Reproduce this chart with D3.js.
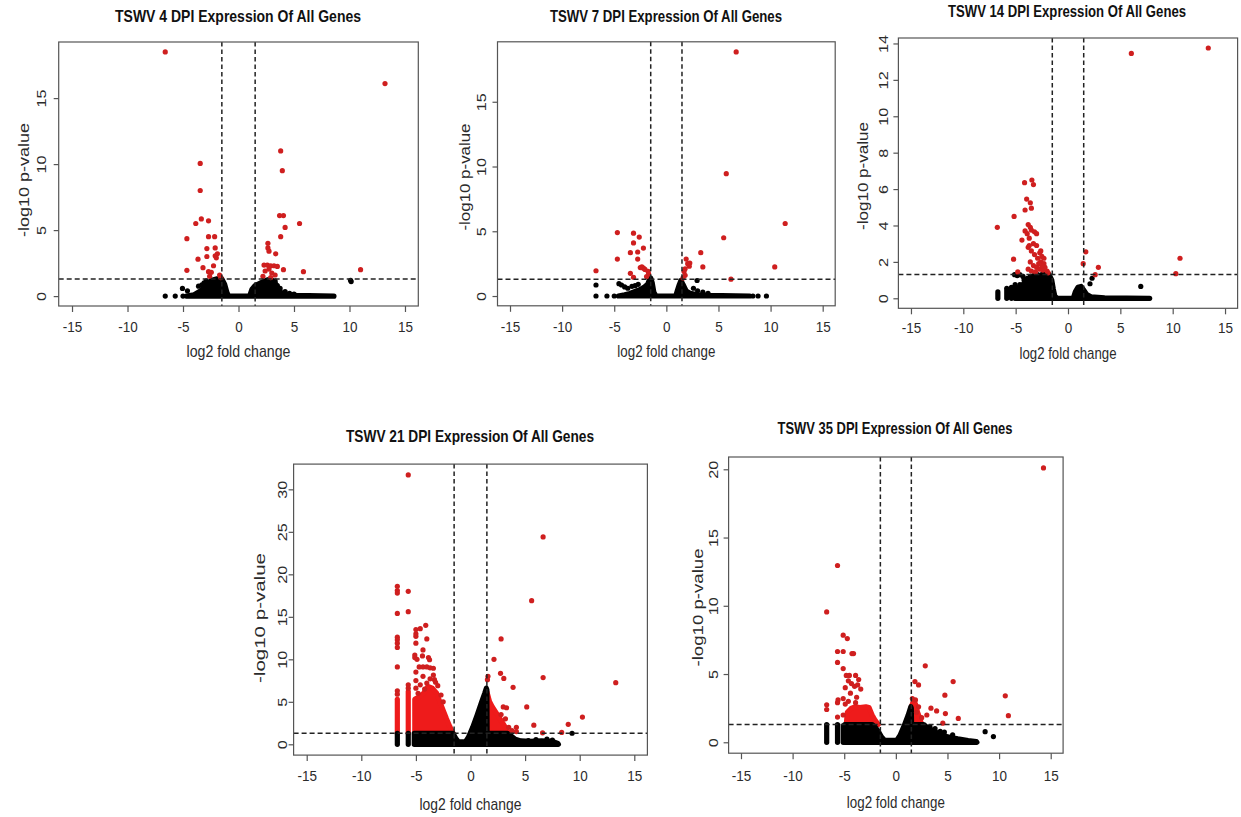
<!DOCTYPE html>
<html><head><meta charset="utf-8">
<script src="https://cdn.jsdelivr.net/npm/d3@7"></script>
<style>body{margin:0;background:#fff}svg{display:block}text{font-family:"Liberation Sans",Arial,Helvetica,sans-serif}</style>
</head><body><svg id="c" width="1241" height="817"></svg>
<script>
// ---------- tick labels / texts ----------
const xTicks = [-15, -10, -5, 0, 5, 10, 15];
const titles = ["TSWV 4 DPI Expression Of All Genes", "TSWV 7 DPI Expression Of All Genes",
  "TSWV 14 DPI Expression Of All Genes", "TSWV 21 DPI Expression Of All Genes", "TSWV 35 DPI Expression Of All Genes"];
const xLabel = "log2 fold change";
const yLabel = "-log10 p-value";
const yTicks4 = [0, 5, 10, 15];
const yTicks7 = [0, 5, 10, 15];
const yTicks14 = [0, 2, 4, 6, 8, 10, 12, 14];
const yTicks21 = [0, 5, 10, 15, 20, 25, 30];
const yTicks35 = [0, 5, 10, 15, 20];
const fcCut = [-1.5, 1.5];
const pCut = 1.301;

// ---------- 4 DPI ----------
const red4 = [[-6.6,18.5],[13.2,16.1],[11.0,2.0],
 [-3.45,10.05],[-3.45,8.0],[-3.85,5.5],[-3.35,5.85],[-2.7,5.7],[-4.65,4.35],[-2.7,4.5],[-2.15,4.5],[-2.85,3.6],[-2.1,3.65],
 [-2.85,3.0],[-2.1,3.05],[-1.9,3.2],[-3.65,2.8],[-3.2,2.15],[-4.65,1.95],[-2.7,1.85],[-2.45,1.8],[-2.25,2.3],[-1.7,1.6],
 [-2.0,2.9],[-2.6,1.5],[-1.6,1.4],
 [3.8,11.0],[3.95,9.5],[3.7,6.1],[4.05,6.1],[5.5,5.5],[4.2,5.2],[3.8,4.5],[2.65,4.0],[2.65,3.65],[3.35,3.2],[2.75,3.4],
 [2.3,2.35],[2.6,2.35],[2.9,2.3],[3.2,2.3],[3.5,2.25],[2.75,2.05],[4.05,2.0],[5.85,1.85],[2.4,1.9],[3.0,1.75],[3.3,1.6],
 [2.2,1.5],[2.9,1.4]];
const black4 = [[10.1,1.2],[10.15,1.1],[-5.05,0.58],[-4.6,0.4],[-3.6,0.75],[-3.3,0.85],[-6.6,0],[-5.7,0],[-5.0,0],
 [3.75,0.58],[4.2,0.35],[4.6,0.2],[5.0,0.15],[-3.1,1.0],[-2.9,1.15],[3.3,1.15],[3.5,0.8]];
const cloud4 = [[-4.7,0],[-4.0,0.1],[-3.4,0.4],[-3.0,0.7],[-2.7,1.0],[-2.4,1.2],[-2.0,1.3],[-1.5,1.3],[-1.25,0.9],[-1.05,0.3],
 [-0.9,0],[1.0,0],[1.2,0.5],[1.5,0.8],[2.0,1.0],[2.5,1.2],[2.9,1.3],[3.3,1.0],[3.6,0.5],[3.9,0.2],[4.6,0.1],[5.2,0.05],[8.6,0]];

// ---------- 7 DPI ----------
const red7 = [[6.7,18.85],[5.75,9.45],[11.4,5.6],[5.5,4.5],[10.4,2.25],[6.2,1.3],[3.5,2.25],[3.3,3.35],
 [-4.7,4.9],[-3.15,4.85],[-2.6,4.55],[-3.15,4.1],[-2.2,3.7],[-3.45,3.35],[-2.75,3.4],[-4.7,2.85],[-2.75,2.85],[-2.35,2.25],
 [-2.2,2.15],[-2.05,2.05],[-1.75,1.9],[-1.7,1.7],[-3.45,1.75],[-3.15,1.45],[-6.75,1.95],[-1.9,1.5],[-2.5,2.2],
 [1.9,2.85],[2.25,2.55],[2.2,2.3],[1.8,2.1],[1.7,1.9],[1.8,1.6],[1.6,1.4],[2.05,2.5]];
const black7 = [[-6.75,0.85],[-6.75,0],[-5.7,0],[-5.0,0],[-4.55,0.95],[-4.3,0.85],[-4.0,0.7],[-3.7,0.6],[-3.3,0.75],
 [-3.0,0.8],[-2.7,0.9],[2.95,1.2],[2.6,0.6],[3.0,0.4],[3.5,0.3],[4.0,0.2],[8.3,0],[8.8,0],[9.6,0]];
const cloud7 = [[-4.6,0],[-4.0,0.1],[-3.5,0.2],[-3.0,0.35],[-2.5,0.5],[-2.1,0.7],[-1.8,0.9],[-1.65,1.2],[-1.5,1.4],
 [-1.35,1.0],[-1.2,0.3],[-1.0,0],[0.9,0],[1.05,0.4],[1.25,0.9],[1.4,1.2],[1.6,0.9],[1.9,0.4],[2.3,0.2],[3.0,0.1],[4.0,0.05],[8.0,0]];

// ---------- 14 DPI ----------
const red14 = [[6.05,13.45],[13.4,13.75],[10.7,2.2],[10.3,1.35],[1.7,2.55],[1.45,1.9],[2.9,1.7],[2.6,1.3],
 [-4.15,6.35],[-3.45,6.5],[-3.3,6.25],[-3.95,5.45],[-3.6,5.25],[-3.5,4.95],[-4.1,4.85],[-5.15,4.5],[-6.75,3.9],
 [-3.8,4.05],[-3.6,3.9],[-4.1,3.7],[-3.9,3.55],[-3.5,3.75],[-3.2,3.65],[-3.0,3.55],[-3.7,3.3],[-3.3,3.0],[-3.8,2.8],
 [-3.5,2.6],[-3.0,2.9],[-2.7,2.5],[-2.5,2.3],[-3.2,2.4],[-2.9,2.2],[-2.6,2.0],[-2.3,1.9],[-3.6,2.0],[-3.3,1.8],[-3.0,1.7],
 [-2.7,1.6],[-2.4,1.55],[-2.0,1.5],[-3.8,1.6],[-3.5,1.5],[-2.2,1.7],[-1.9,1.4],[-2.5,1.8],[-2.8,1.9],[-5.2,2.15],
 [-4.8,1.45],[-3.1,1.45],[-4.4,3.2],[-3.7,2.9],[-2.6,2.6],[-2.3,2.2]];
const black14 = [[-5.1,1.3],[-4.85,1.25],[-4.6,1.3],[-4.3,1.2],[-4.6,0.75],[6.95,0.65],[2.3,1.1],[2.1,0.8],[7.8,0],
 [-4.2,1.0],[-3.9,1.1],[-3.6,1.2],[-3.3,1.25],[-2.9,1.3],[-2.5,1.3]];
const cols14 = [[-6.7,0,0.35],[-5.85,0,0.55],[-5.4,0,0.6],[-5.05,0,0.75]];
const cloud14 = [[-4.95,0],[-4.9,0.5],[-4.6,0.65],[-4.2,0.8],[-3.8,0.9],[-3.3,1.05],[-2.9,1.2],[-2.4,1.3],[-1.8,1.3],
 [-1.55,1.0],[-1.4,0.5],[-1.25,0.1],[-1.0,0],[0.5,0],[0.7,0.35],[0.95,0.6],[1.25,0.65],[1.5,0.45],[1.8,0.2],[2.2,0.08],
 [3.5,0.03],[7.7,0]];

// ---------- 21 DPI ----------
const red21 = [[-5.7,31.7],[6.65,24.4],[5.6,16.9],[2.8,12.4],[2.15,10.0],[2.75,8.35],[3.05,7.75],[1.6,8.0],[1.55,7.6],
 [3.9,6.7],[6.65,7.85],[13.3,7.25],[5.15,4.4],[5.8,2.25],[4.2,2.0],[6.6,1.35],[8.35,1.4],[8.95,2.35],[10.25,3.2],
 [3.0,4.4],[3.3,4.3],[2.8,3.5],[3.2,3.0],[3.5,2.0],[4.2,1.5],[3.8,1.6],
 [-6.7,18.6],[-6.7,18.1],[-6.7,17.8],[-6.7,15.4],[-6.7,12.6],[-6.7,12.3],[-6.7,11.9],[-6.7,11.4],[-6.7,9.1],[-6.7,6.3],
 [-6.7,5.9],[-5.7,18.0],[-5.7,15.6],[-5.7,7.0],[-5.7,6.6],
 [-5.0,13.5],[-4.6,13.6],[-4.1,14.0],[-5.0,13.0],[-5.0,12.7],[-5.0,11.9],[-4.35,11.1],[-4.0,12.4],[-5.1,10.5],[-5.1,10.2],
 [-4.9,10.0],[-4.4,10.4],[-3.85,10.2],[-3.75,9.95],[-4.7,9.1],[-4.35,9.1],[-4.0,9.1],[-3.7,9.0],[-3.4,8.95],[-3.4,8.15],
 [-3.3,7.6],[-3.2,7.3],[-3.7,7.7],[-4.35,8.0],[-5.0,8.5],[-5.0,7.5],[-4.6,7.0],[-4.0,7.2],[-3.0,6.9],[-2.7,5.8],
 [-5.0,6.6],[-4.8,6.0],[-4.2,6.5],[-2.5,5.0]];
const redArea21 = [
 [[-5.1,5.3],[-4.7,5.6],[-4.3,6.0],[-3.9,6.8],[-3.5,6.6],[-3.1,6.0],[-2.8,5.0],[-2.5,4.0],[-2.2,3.0],[-1.9,2.1],[-1.6,1.3]],
 [[1.5,6.2],[1.75,5.0],[2.0,4.4],[2.4,3.6],[2.8,2.8],[3.1,2.2],[3.3,1.7],[3.5,1.3]]];
const redCols21 = [[-6.7,1.3,5.3],[-5.7,1.3,6.2]];
const cloud21 = [[-5.15,0],[-5.15,1.3],[-1.6,1.3],[-1.35,0.7],[-1.1,0.3],[-0.45,0.3],[-0.2,0.8],[0.2,2.0],[0.6,3.4],
 [1.0,4.9],[1.3,6.0],[1.45,6.6],[1.5,6.4],[1.52,1.3],[3.4,1.3],[3.7,1.0],[4.1,0.6],[4.6,0.4],[5.5,0.35],[6.5,0.4],
 [7.5,0.35],[8.0,0.1],[8.05,0]];
const cols21 = [[-6.7,0,1.3],[-5.7,0,1.3]];
const black21 = [[9.3,1.3],[7.0,0.6],[7.5,0.5],[6.0,0.55],[5.3,0.45]];

// ---------- 35 DPI ----------
const red35 = [[14.3,20.1],[-5.65,12.95],[-6.7,9.55],[-5.1,7.85],[-4.7,7.6],[-5.65,6.65],[-5.1,6.65],[-4.25,6.5],
 [-4.1,6.5],[-5.65,5.85],[-5.1,5.4],[2.85,5.6],[1.85,4.45],[2.2,4.2],[5.55,4.45],[4.75,3.45],[10.6,3.4],[10.9,1.95],
 [6.05,1.75],[4.8,2.1],[3.4,2.5],[3.95,2.3],[3.0,2.0],[4.55,1.4],
 [-4.8,4.9],[-4.5,4.9],[-3.9,4.9],[-3.6,4.6],[-4.6,4.5],[-4.3,4.3],[-4.0,4.1],[-3.7,4.2],[-4.9,4.0],[-3.4,3.9],
 [-4.4,3.6],[-5.6,3.1],[-5.1,3.2],[-3.8,3.3],[-4.6,3.0],[-6.7,2.75],[-6.7,2.4],[-5.65,2.9],[-5.65,1.85],[-4.9,2.8],
 [-5.1,2.0],[-3.9,2.9],[1.6,3.2],[1.9,3.1],[2.2,2.6],[2.0,2.2],[2.5,1.8]];
const redArea35 = [
 [[-4.8,1.3],[-4.7,2.2],[-4.3,2.5],[-3.9,2.6],[-3.5,2.55],[-2.9,2.6],[-2.6,2.55],[-2.3,2.0],[-2.0,1.6],[-1.7,1.3]],
 [[1.5,2.6],[1.7,3.0],[1.9,2.8],[2.1,2.2],[2.3,1.8],[2.5,1.3]]];
const cloud35 = [[-4.95,0],[-4.95,1.3],[-2.3,1.3],[-2.0,1.1],[-1.7,0.8],[-1.4,0.4],[-1.1,0.15],[0.1,0.15],[0.4,0.5],
 [0.8,1.2],[1.2,2.0],[1.45,2.6],[1.5,2.5],[1.52,1.3],[2.7,1.3],[3.0,1.1],[3.5,0.9],[4.0,0.7],[4.5,0.55],[5.0,0.4],
 [6.0,0.25],[7.0,0.12],[7.8,0.05],[7.85,0]];
const cols35 = [[-6.7,0,1.3],[-5.65,0,1.3],[-5.1,0,1.2]];
const black35 = [[8.65,0.78],[9.45,0.42],[3.3,1.15],[3.8,1.0],[4.3,0.8],[4.7,0.75],[5.5,0.55]];

// ---------- layout (positions only) ----------
const panels = [
 {t:titles[0], box:[58.7,418.3,42,306], ydom:[-0.75,19.25], yt:yTicks4, red:red4, black:black4, cloud:cloud4,
  tx:238, ty:21.7, tl:246, xlY:357, xlL:104, xtB:331.7, ytX:46, ylX:29, ylY:180, ylL:114},
 {t:titles[1], box:[497.5,835.2,41.8,305.8], ydom:[-0.755,19.63], yt:yTicks7, red:red7, black:black7, cloud:cloud7,
  tx:666, ty:21.7, tl:232, xlY:357, xlL:98, xtB:331.7, ytX:486, ylX:469.5, ylY:177, ylL:107},
 {t:titles[2], box:[898.4,1237.6,38,308.3], ydom:[-0.55,14.3], yt:yTicks14, red:red14, black:black14, cloud:cloud14, cols:cols14,
  tx:1067, ty:17.3, tl:238, xlY:359, xlL:97, xtB:333.3, ytX:888.3, ylX:868, ylY:176, ylL:108},
 {t:titles[3], box:[293.6,647.4,464.1,755.1], ydom:[-1.27,32.97], yt:yTicks21, red:red21, black:black21, cloud:cloud21,
  cols:cols21, redAreas:redArea21, redCols:redCols21,
  tx:470, ty:442.3, tl:248, xlY:809.5, xlL:102, xtB:780.7, ytX:286.5, ylX:264.5, ylY:618, ylL:130},
 {t:titles[4], box:[728.6,1063.1,457,753.2], ydom:[-0.8,20.9], yt:yTicks35, red:red35, black:black35, cloud:cloud35,
  cols:cols35, redAreas:redArea35,
  tx:895, ty:434, tl:235, xlY:808, xlL:98, xtB:780.7, ytX:718.3, ylX:703, ylY:607.5, ylL:118}
];

const svg = d3.select("#c");
const RED = "#cf1f1f", RED_DENSE = "#ee1b1b", INK = "#2b2b2b";
const R = 2.6;
const VS = 1.15; // vertical stretch of horizontal text

panels.forEach(p => {
  const [L, Rt, T, B] = p.box;
  const x = d3.scaleLinear().domain([-16.2, 16.2]).range([L, Rt]);
  const y = d3.scaleLinear().domain(p.ydom).range([B, T]);
  const g = svg.append("g");

  // red dense areas (above threshold)
  (p.redAreas || []).forEach(a => {
    const area = d3.area().x(d => x(d[0])).y0(y(pCut)).y1(d => y(d[1]));
    const pts = [[a[0][0], pCut]].concat(a);
    g.append("path").attr("d", area(pts)).attr("fill", RED_DENSE).attr("stroke", RED_DENSE)
      .attr("stroke-width", 2 * R).attr("stroke-linejoin", "round");
  });
  (p.redCols || []).forEach(c => {
    g.append("line").attr("x1", x(c[0])).attr("x2", x(c[0])).attr("y1", y(c[1])).attr("y2", y(c[2]))
      .attr("stroke", RED_DENSE).attr("stroke-width", 2 * R).attr("stroke-linecap", "round");
  });

  // black dense cloud
  const bArea = d3.area().x(d => x(d[0])).y0(y(0)).y1(d => y(d[1]));
  g.append("path").attr("d", bArea(p.cloud)).attr("fill", "#000").attr("stroke", "#000")
    .attr("stroke-width", 2 * R).attr("stroke-linejoin", "round");
  (p.cols || []).forEach(c => {
    g.append("line").attr("x1", x(c[0])).attr("x2", x(c[0])).attr("y1", y(c[1])).attr("y2", y(c[2]))
      .attr("stroke", "#000").attr("stroke-width", 2 * R).attr("stroke-linecap", "round");
  });
  g.selectAll(null).data(p.black).join("circle")
    .attr("cx", d => x(d[0])).attr("cy", d => y(d[1])).attr("r", R).attr("fill", "#000");
  g.selectAll(null).data(p.red).join("circle")
    .attr("cx", d => x(d[0])).attr("cy", d => y(d[1])).attr("r", R).attr("fill", RED);

  // threshold lines
  g.append("line").attr("x1", L).attr("x2", Rt).attr("y1", y(pCut)).attr("y2", y(pCut))
    .attr("stroke", "#222").attr("stroke-width", 1.5).attr("stroke-dasharray", "5,3");
  fcCut.forEach(v => {
    g.append("line").attr("x1", x(v)).attr("x2", x(v)).attr("y1", T).attr("y2", B)
      .attr("stroke", "#222").attr("stroke-width", 1.5).attr("stroke-dasharray", "4.5,3");
  });

  // box
  g.append("rect").attr("x", L).attr("y", T).attr("width", Rt - L).attr("height", B - T)
    .attr("fill", "none").attr("stroke", "#555").attr("stroke-width", 1.2);

  // x axis
  const gx = g.append("g").attr("transform", `translate(0,${B})`)
    .call(d3.axisBottom(x).tickValues(xTicks).tickSize(6).tickFormat(d => String(d)));
  gx.select(".domain").remove();
  gx.selectAll("line").attr("stroke", "#555").attr("stroke-width", 1.2);
  gx.selectAll("text").attr("y", 0).attr("dy", null).attr("fill", INK)
    .attr("font-size", 13.5).attr("font-family", null)
    .attr("transform", `translate(0,${p.xtB - B}) scale(1,${VS})`);

  // y axis
  const gy = g.append("g").attr("transform", `translate(${L},0)`)
    .call(d3.axisLeft(y).tickValues(p.yt).tickSize(5).tickFormat(d => String(d)));
  gy.select(".domain").remove();
  gy.selectAll("line").attr("stroke", "#555").attr("stroke-width", 1.2);
  gy.selectAll("text").attr("x", null).attr("dy", null).attr("text-anchor", "middle").attr("fill", INK)
    .attr("font-size", 13.5).attr("font-family", null)
    .attr("transform", `translate(${p.ytX - L},0) rotate(-90) scale(1.2,1)`);

  // title
  g.append("text").attr("transform", `translate(${p.tx},${p.ty}) scale(1,${VS})`).attr("text-anchor", "middle")
    .attr("font-weight", "bold").attr("font-size", 14).attr("fill", "#111")
    .attr("textLength", p.tl).attr("lengthAdjust", "spacingAndGlyphs").text(p.t);
  // x label
  g.append("text").attr("transform", `translate(${(L + Rt) / 2},${p.xlY}) scale(1,${VS})`).attr("text-anchor", "middle")
    .attr("font-size", 14).attr("fill", INK).attr("textLength", p.xlL).attr("lengthAdjust", "spacingAndGlyphs").text(xLabel);
  // y label
  g.append("text").attr("transform", `translate(${p.ylX},${p.ylY}) rotate(-90)`).attr("text-anchor", "middle")
    .attr("font-size", 15).attr("fill", INK).attr("textLength", p.ylL).attr("lengthAdjust", "spacingAndGlyphs").text(yLabel);
});
</script></body></html>
